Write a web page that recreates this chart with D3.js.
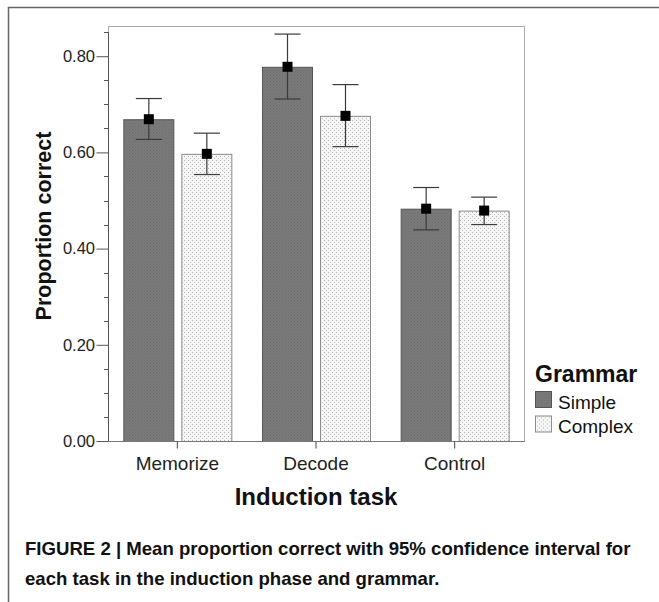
<!DOCTYPE html>
<html>
<head>
<meta charset="utf-8">
<script src="https://cdn.jsdelivr.net/npm/d3@7/dist/d3.min.js"></script>
<style>
  body { margin: 0; background: #fff; }
  svg { display: block; font-family: "Liberation Sans", Arial, sans-serif; }
</style>
</head>
<body>
<div id="plot"></div>
<script>
// data
var tasks = ["Memorize", "Decode", "Control"];
var grammars = ["Simple", "Complex"];
var simpleMean = [0.669, 0.778, 0.483];
var simpleLow = [0.627, 0.711, 0.439];
var simpleHigh = [0.712, 0.846, 0.527];
var complexMean = [0.597, 0.676, 0.479];
var complexLow = [0.554, 0.612, 0.450];
var complexHigh = [0.640, 0.741, 0.507];
var yMajor = [0, 0.2, 0.4, 0.6, 0.8];
var yMinor = [0.05, 0.1, 0.15, 0.25, 0.3, 0.35, 0.45, 0.5, 0.55, 0.65, 0.7, 0.75, 0.85];
var captionLines = [
    "FIGURE 2 | Mean proportion correct with 95% confidence interval for",
    "each task in the induction phase and grammar."
];

var W = 659, H = 602;
var plot = {left: 108, right: 524, top: 26, bottom: 441};

var svg = d3.select("#plot")
    .append("svg")
    .attr("width", W)
    .attr("height", H);

// patterns for the two fills
var defs = svg.append("defs");
var pS = defs.append("pattern")
    .attr("id", "pSimple").attr("patternUnits", "userSpaceOnUse")
    .attr("width", 3).attr("height", 3);
pS.append("rect").attr("width", 3).attr("height", 3).attr("fill", "#7a7a7a");
pS.append("rect").attr("width", 1).attr("height", 1).attr("fill", "#6e6e6e");
pS.append("rect").attr("x", 1.5).attr("y", 1.5).attr("width", 1).attr("height", 1).attr("fill", "#6e6e6e");

var pC = defs.append("pattern")
    .attr("id", "pComplex").attr("patternUnits", "userSpaceOnUse")
    .attr("width", 4).attr("height", 4);
pC.append("rect").attr("width", 4).attr("height", 4).attr("fill", "#f6f6f6");
pC.append("rect").attr("width", 1).attr("height", 1).attr("fill", "#b4b4b4");
pC.append("rect").attr("x", 2).attr("y", 2).attr("width", 1).attr("height", 1).attr("fill", "#c4c4c4");

var fills = {Simple: "url(#pSimple)", Complex: "url(#pComplex)"};
var strokes = {Simple: "#555", Complex: "#8a8a8a"};

// outer frame (top and left only, the figure is cropped)
svg.append("path")
    .attr("d", "M8.5," + H + "V7.5H" + W)
    .attr("fill", "none")
    .attr("stroke", "#666")
    .attr("stroke-width", 1.5);

var y = d3.scaleLinear()
    .domain([0, 0.8628])
    .range([plot.bottom, plot.top]);

var x0 = d3.scaleBand()
    .domain(tasks)
    .range([plot.left, plot.right]);

var x1 = d3.scaleBand()
    .domain(grammars)
    .range([0, 108])
    .paddingInner(0.138);

// plot frame
svg.append("rect")
    .attr("x", plot.left + 0.5)
    .attr("y", plot.top + 0.5)
    .attr("width", plot.right - plot.left)
    .attr("height", plot.bottom - plot.top)
    .attr("fill", "none")
    .attr("stroke", "#aaa");

var rows = [];
tasks.forEach(function(t, i) {
    rows.push({task: t, g: "Simple", mean: simpleMean[i], lo: simpleLow[i], hi: simpleHigh[i]});
    rows.push({task: t, g: "Complex", mean: complexMean[i], lo: complexLow[i], hi: complexHigh[i]});
});

function barX(d) {
    return x0(d.task) + x0.bandwidth() / 2 - 54 + x1(d.g);
}

// bars
svg.append("g")
    .selectAll("rect")
    .data(rows)
    .enter()
    .append("rect")
        .attr("x", function(d) { return barX(d) + 0.5; })
        .attr("y", function(d) { return y(d.mean) + 0.5; })
        .attr("width", x1.bandwidth())
        .attr("height", function(d) { return y(0) - y(d.mean); })
        .attr("fill", function(d) { return fills[d.g]; })
        .attr("stroke", function(d) { return strokes[d.g]; });

// error bars
var eb = svg.append("g")
    .attr("stroke", "#3a3a3a")
    .attr("stroke-width", 1.2)
    .selectAll("g")
    .data(rows)
    .enter()
    .append("g")
    .attr("transform", function(d) { return "translate(" + (barX(d) + x1.bandwidth() / 2 + 0.5) + ",0)"; });

eb.append("line")
    .attr("y1", function(d) { return y(d.lo); })
    .attr("y2", function(d) { return y(d.hi); });
eb.append("line")
    .attr("x1", -13).attr("x2", 13)
    .attr("y1", function(d) { return y(d.hi); })
    .attr("y2", function(d) { return y(d.hi); });
eb.append("line")
    .attr("x1", -13).attr("x2", 13)
    .attr("y1", function(d) { return y(d.lo); })
    .attr("y2", function(d) { return y(d.lo); });
eb.append("rect")
    .attr("x", -5)
    .attr("y", function(d) { return y(d.mean) - 5; })
    .attr("width", 10)
    .attr("height", 10)
    .attr("fill", "#000")
    .attr("stroke", "none");

// y axis
var yAxis = svg.append("g")
    .attr("transform", "translate(" + (plot.left + 0.5) + ",0)")
    .call(d3.axisLeft(y).tickValues(yMajor).tickSize(12).tickFormat(d3.format(".2f")));
yAxis.select(".domain").attr("d", "M0," + y(0.85) + "V" + (plot.bottom + 0.5)).attr("stroke", "#555");
yAxis.selectAll(".tick line").attr("stroke", "#555");
yAxis.selectAll(".tick text")
    .attr("x", -13.5)
    .style("font-size", "16.5px")
    .style("font-family", "Liberation Sans, Arial, sans-serif")
    .attr("fill", "#222");

svg.append("g")
    .selectAll("line")
    .data(yMinor)
    .enter()
    .append("line")
        .attr("x1", plot.left - 4)
        .attr("x2", plot.left + 0.5)
        .attr("y1", function(d) { return Math.round(y(d)) + 0.5; })
        .attr("y2", function(d) { return Math.round(y(d)) + 0.5; })
        .attr("stroke", "#555");

// x axis
var xAxis = svg.append("g")
    .attr("transform", "translate(0," + (plot.bottom + 0.5) + ")")
    .call(d3.axisBottom(x0).tickSize(7).tickPadding(8));
xAxis.select(".domain").attr("d", "M" + plot.left + ",0H" + (plot.right + 0.5)).attr("stroke", "#777");
xAxis.selectAll(".tick line").attr("stroke", "#444");
xAxis.selectAll(".tick text")
    .style("font-size", "19px")
    .style("font-family", "Liberation Sans, Arial, sans-serif")
    .attr("fill", "#222");

// axis titles
svg.append("text")
    .attr("x", (plot.left + plot.right) / 2)
    .attr("y", 505)
    .attr("text-anchor", "middle")
    .style("font-size", "24px")
    .style("font-weight", "bold")
    .attr("fill", "#111")
    .text("Induction task");

svg.append("text")
    .attr("transform", "translate(51,226) rotate(-90)")
    .attr("text-anchor", "middle")
    .style("font-size", "21.5px")
    .style("font-weight", "bold")
    .attr("fill", "#111")
    .text("Proportion correct");

// legend
var legend = svg.append("g").attr("transform", "translate(535,0)");
legend.append("text")
    .attr("x", 0)
    .attr("y", 382)
    .style("font-size", "23px")
    .style("font-weight", "bold")
    .attr("fill", "#111")
    .text("Grammar");
var li = legend.selectAll("g.item")
    .data(grammars)
    .enter()
    .append("g")
    .attr("class", "item")
    .attr("transform", function(d, i) { return "translate(0," + (391 + i * 24.5) + ")"; });
li.append("rect")
    .attr("x", 0.5).attr("y", 0.5)
    .attr("width", 16).attr("height", 16)
    .attr("fill", function(d) { return fills[d]; })
    .attr("stroke", function(d) { return strokes[d]; });
li.append("text")
    .attr("x", 23)
    .attr("y", 11)
    .attr("dy", "0.35em")
    .style("font-size", "19px")
    .attr("fill", "#111")
    .text(function(d) { return d; });

// caption
svg.append("g")
    .selectAll("text")
    .data(captionLines)
    .enter()
    .append("text")
        .attr("x", 25)
        .attr("y", function(d, i) { return 555 + i * 30; })
        .style("font-size", "18.6px")
        .style("font-weight", "bold")
        .attr("fill", "#111")
        .text(function(d) { return d; });
</script>
</body>
</html>
